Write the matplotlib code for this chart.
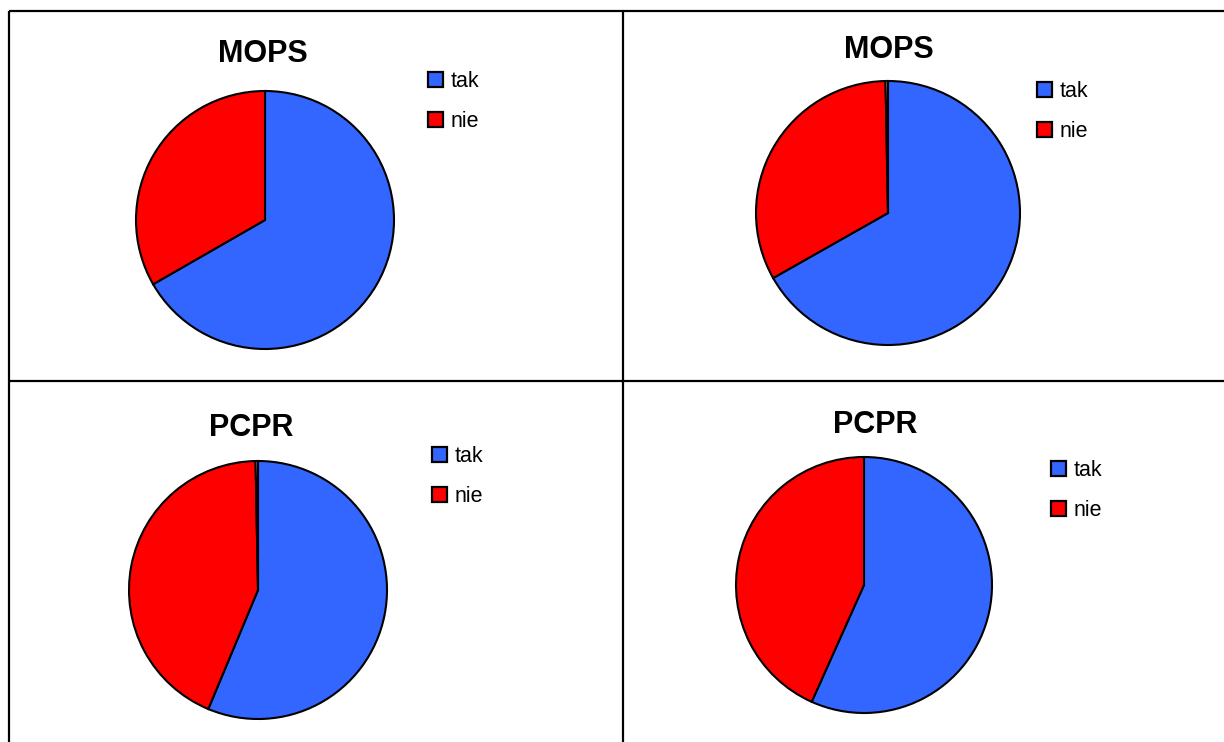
import matplotlib.pyplot as plt
from matplotlib.patches import Rectangle
from matplotlib.lines import Line2D

plt.rcParams['font.family'] = ['Liberation Sans', 'DejaVu Sans']

W, H = 1224, 742

labels = ["tak", "nie"]
titles = ["MOPS", "MOPS", "PCPR", "PCPR"]
# third (tiny) value = unlabelled sliver visible at the top of some pies
mops_a = [66.7, 33.3]
mops_b = [66.8, 32.9, 0.3]
pcpr_a = [56.3, 43.4, 0.3]
pcpr_b = [56.7, 43.3]
series = [mops_a, mops_b, pcpr_a, pcpr_b]

colors = ["#3366FF", "#FF0000", "#FFFFFF"]

# layout in pixels: pie centre, radius, title centre, legend top-left
pie_pos = [(265, 220, 129), (888, 213, 132), (258, 590, 129), (864, 585, 128)]
title_pos = [(263, 54), (889, 50), (251, 428), (875, 425)]
legend_pos = [(428, 71), (1037, 81), (432, 446), (1051, 460)]

fig = plt.figure(figsize=(W / 100, H / 100), dpi=100)

for vals, title, (cx, cy, r), (tx, ty), (lx, ly) in zip(series, titles, pie_pos, title_pos, legend_pos):
    pad = 1.05
    ax = fig.add_axes([(cx - r * pad) / W, (H - cy - r * pad) / H, 2 * r * pad / W, 2 * r * pad / H])
    ax.pie(vals, colors=colors[:len(vals)], startangle=90, counterclock=False, radius=1,
           wedgeprops=dict(edgecolor="black", linewidth=1.5))
    ax.set_xlim(-pad, pad)
    ax.set_ylim(-pad, pad)
    ax.set_aspect("equal")
    ax.axis("off")

    fig.text(tx / W, 1 - ty / H, title, ha="center", va="center", fontsize=22, fontweight="bold")

    handles = [Rectangle((0, 0), 1, 1, facecolor=c, edgecolor="black", linewidth=1.6) for c in colors[:2]]
    ax.legend(handles, labels, loc="upper left", bbox_to_anchor=(lx / W, 1 - ly / H),
              bbox_transform=fig.transFigure, frameon=False, fontsize=15.5,
              handlelength=0.7, handleheight=0.7, handletextpad=0.35,
              labelspacing=0.88, borderpad=0, borderaxespad=0)

# table borders
def px_line(x0, y0, x1, y1):
    fig.add_artist(Line2D([x0 / W, x1 / W], [1 - y0 / H, 1 - y1 / H], transform=fig.transFigure,
                          color="black", linewidth=1.6, solid_capstyle="butt"))

px_line(9, 11, 1224, 11)
px_line(9, 11, 9, 742)
px_line(623, 11, 623, 742)
px_line(9, 381, 1224, 381)

fig.savefig("out.png", dpi=100)
